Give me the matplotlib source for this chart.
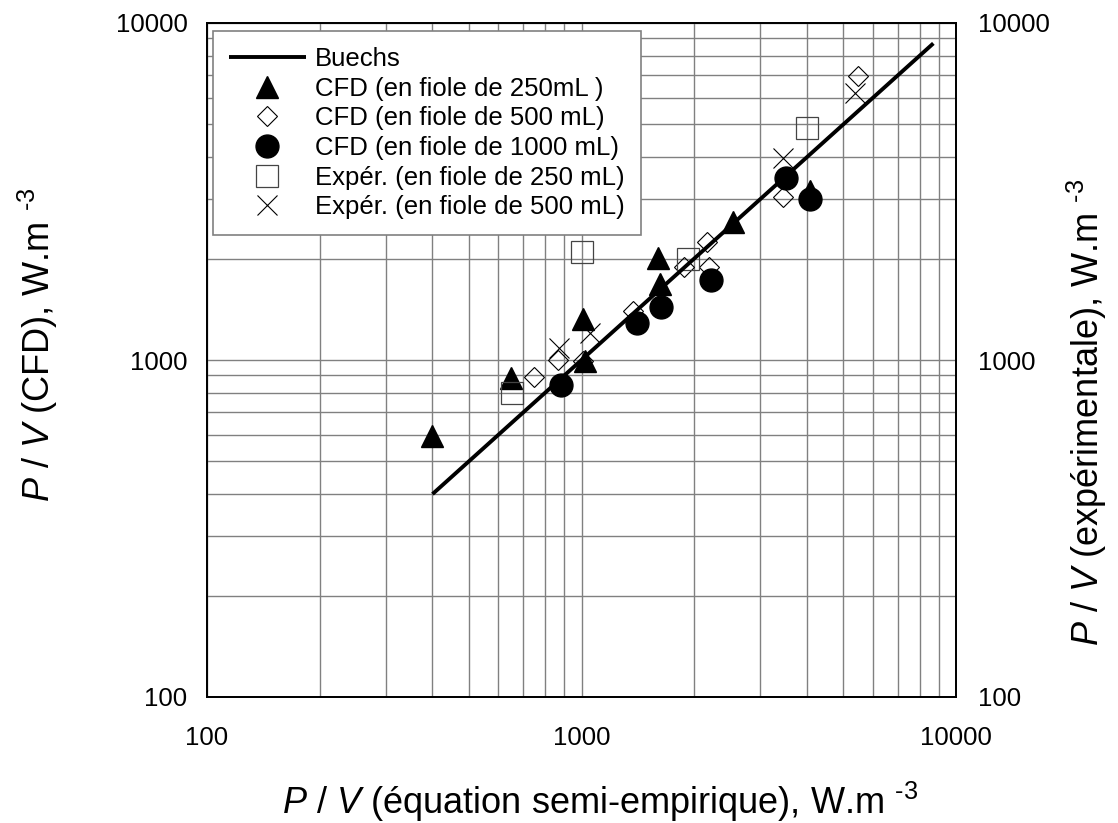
import matplotlib
matplotlib.use("Agg")
import matplotlib.pyplot as plt
from matplotlib.ticker import NullLocator, NullFormatter, LogLocator

plt.rcParams['font.family'] = ['Liberation Sans', 'DejaVu Sans']
plt.rcParams['mathtext.fontset'] = 'custom'
plt.rcParams['mathtext.rm'] = 'Liberation Sans'
plt.rcParams['mathtext.it'] = 'Liberation Sans:italic'

# Buechs correlation line
buechs_x = [400, 8700]
buechs_y = [400, 8700]

# CFD (250 mL)
cfd250_x = [400, 650, 1010, 1020, 1600, 1620, 2544, 4077]
cfd250_y = [593, 884, 1323, 990, 2005, 1680, 2575, 3170]

# CFD (500 mL)
cfd500_x = [745, 866, 1010, 1371, 1877, 2168, 2189, 3453, 5458]
cfd500_y = [888, 997, 996, 1393, 1894, 2246, 1894, 3042, 6963]

# CFD (1000 mL)
cfd1000_x = [884, 1403, 1627, 2222, 3512, 4077]
cfd1000_y = [844, 1287, 1441, 1730, 3464, 3000]

# Expér. (250 mL)
exp250_x = [653, 1000, 1924, 4013]
exp250_y = [798, 2090, 1992, 4873]

# Expér. (500 mL)
exp500_x = [870, 1052, 3453, 5370]
exp500_y = [1085, 1202, 3987, 6186]

labels = ["Buechs", "CFD (en fiole de 250mL )", "CFD (en fiole de 500 mL)",
          "CFD (en fiole de 1000 mL)", "Expér. (en fiole de 250 mL)",
          "Expér. (en fiole de 500 mL)"]
ticks = [100, 1000, 10000]
tick_labels = ["100", "1000", "10000"]

fig = plt.figure(figsize=(11.18, 8.23), dpi=100)
ax = fig.add_axes([207/1118, 1-697/823, (956-207)/1118, (697-23)/823])

ax.plot(buechs_x, buechs_y, color='black', lw=2.8, label=labels[0], zorder=4, solid_capstyle='butt')
ax.plot(cfd250_x, cfd250_y, ls='none', marker='^', ms=16, color='black', label=labels[1], zorder=3)
ax.plot(cfd500_x, cfd500_y, ls='none', marker='D', ms=10.5, mfc='none', mec='black', mew=0.8, label=labels[2], zorder=3)
ax.plot(cfd1000_x, cfd1000_y, ls='none', marker='o', ms=16.5, color='black', label=labels[3], zorder=3)
ax.plot(exp250_x, exp250_y, ls='none', marker='s', ms=15.5, mfc='none', mec='#444444', mew=0.9, label=labels[4], zorder=3)
ax.plot(exp500_x, exp500_y, ls='none', marker='x', ms=14.5, color='black', mew=0.8, label=labels[5], zorder=3)

ax.set_xscale('log')
ax.set_yscale('log')
ax.set_xlim(100, 10000)
ax.set_ylim(100, 10000)
ax.set_xticks(ticks)
ax.set_xticklabels(tick_labels)
ax.set_yticks(ticks)
ax.set_yticklabels(tick_labels)
for axis in (ax.xaxis, ax.yaxis):
    axis.set_minor_locator(LogLocator(base=10, subs=range(2, 10)))
    axis.set_minor_formatter(NullFormatter())
ax.grid(True, which='both', color='#808080', lw=1.0)
ax.set_axisbelow(True)
ax.tick_params(axis='both', which='both', length=0, labelsize=18.5)
ax.tick_params(axis='x', pad=21)
ax.tick_params(axis='y', pad=14)
for s in ax.spines.values():
    s.set_linewidth(1.3)
    s.set_color('black')

ax.set_xlabel(r'$\mathit{P}$ / $\mathit{V}$ (équation semi-empirique), W.m $^{\text{-3}}$', fontsize=26)
ax.xaxis.set_label_coords((600-207)/749, (697-780)/674)
ax.set_ylabel(r'$\mathit{P}$ / $\mathit{V}$ (CFD), W.m $^{\text{-3}}$', fontsize=26)
ax.yaxis.set_label_coords((60-207)/749, (697-345)/674)

ax2 = ax.twinx()
ax2.set_yscale('log')
ax2.set_ylim(100, 10000)
ax2.set_yticks(ticks)
ax2.set_yticklabels(tick_labels)
ax2.yaxis.set_minor_locator(NullLocator())
ax2.tick_params(axis='y', which='both', length=0, labelsize=18.5, pad=16)
ax2.set_ylabel(r'$\mathit{P}$ / $\mathit{V}$ (expérimentale), W.m $^{\text{-3}}$', fontsize=26)
ax2.yaxis.set_label_coords((1065-207)/749, (697-412)/674)
for s in ax2.spines.values():
    s.set_linewidth(1.3)

leg = ax.legend(loc='upper left', bbox_to_anchor=(213/1118, 1-31/823), bbox_transform=fig.transFigure,
                fontsize=18.5, frameon=True, fancybox=False, edgecolor='#808080', framealpha=1,
                handlelength=3.0, borderaxespad=0, borderpad=0.62, labelspacing=0.22, handletextpad=0.35)
leg.get_frame().set_linewidth(1.2)

fig.savefig('out.png', dpi=100)
